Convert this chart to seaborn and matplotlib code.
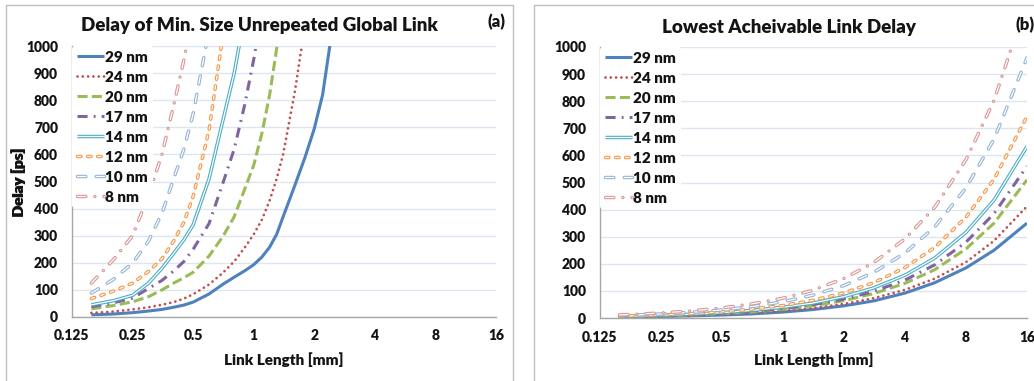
import numpy as np
import pandas as pd
import matplotlib
matplotlib.use("Agg")
import matplotlib.pyplot as plt
import matplotlib.patheffects as pe
from matplotlib.patches import Rectangle
from matplotlib.ticker import NullLocator
import seaborn as sns

# ---------------- data ----------------
series_names = ["29 nm", "24 nm", "20 nm", "17 nm", "14 nm", "12 nm", "10 nm", "8 nm"]
x_ticks = [0.125, 0.25, 0.5, 1, 2, 4, 8, 16]
x_tick_labels = ["0.125", "0.25", "0.5", "1", "2", "4", "8", "16"]
y_ticks = [0, 100, 200, 300, 400, 500, 600, 700, 800, 900, 1000]

nan = np.nan
# (a) Delay of minimum-size unrepeated global link
length_a = [0.156, 0.2, 0.25, 0.3, 0.35, 0.4, 0.45, 0.5, 0.6, 0.7, 0.8, 0.9, 1.0, 1.1, 1.2, 1.3, 1.4, 1.6, 1.8, 2.0, 2.2, 2.5]
delay_a_29 = [8, 11, 16, 22, 28, 36, 44, 55, 85, 120, 147, 170, 193, 222, 258, 305, 370, 485, 590, 695, 820, 1100]
delay_a_24 = [15, 20, 28, 36, 45, 55, 68, 84, 120, 162, 205, 255, 305, 360, 430, 510, 600, 830, 1080, nan, nan, nan]
delay_a_20 = [30, 42, 56, 75, 100, 125, 145, 165, 225, 295, 370, 470, 560, 680, 820, 990, 1150, nan, nan, nan, nan, nan]
delay_a_17 = [38, 52, 70, 105, 135, 170, 205, 250, 345, 490, 620, 780, 950, 1130, nan, nan, nan, nan, nan, nan, nan, nan]
delay_a_14 = [45, 60, 80, 125, 180, 235, 285, 340, 510, 720, 900, 1110, nan, nan, nan, nan, nan, nan, nan, nan, nan, nan]
delay_a_12 = [68, 95, 125, 168, 215, 280, 350, 445, 690, 1030, nan, nan, nan, nan, nan, nan, nan, nan, nan, nan, nan, nan]
delay_a_10 = [88, 138, 199, 280, 383, 510, 620, 750, 1060, nan, nan, nan, nan, nan, nan, nan, nan, nan, nan, nan, nan, nan]
delay_a_8 = [125, 210, 300, 450, 600, 780, 950, 1120, nan, nan, nan, nan, nan, nan, nan, nan, nan, nan, nan, nan, nan, nan]

# (b) Lowest achievable link delay
length_b = [0.156, 0.2, 0.25, 0.35, 0.5, 0.7, 1, 1.4, 2, 2.8, 4, 5.6, 8, 11, 16]
delay_b_29 = [3.5, 4.5, 5.5, 8, 11, 15, 22, 31, 45, 63, 92, 130, 185, 250, 350]
delay_b_24 = [4, 5, 6.5, 9, 13, 18, 26, 36, 52, 73, 104, 145, 206, 285, 412]
delay_b_20 = [5, 6.5, 8, 11, 16, 22, 32, 45, 64, 90, 128, 178, 255, 350, 510]
delay_b_17 = [5.5, 7, 9, 12, 17.5, 24, 35, 49, 70, 98, 140, 196, 280, 385, 560]
delay_b_14 = [6, 8, 10, 14, 20, 28, 40, 55, 79, 111, 158, 221, 316, 435, 633]
delay_b_12 = [7, 9, 12, 16, 23, 33, 46, 65, 93, 130, 186, 260, 372, 512, 744]
delay_b_10 = [9, 12, 15, 21, 30, 42, 60, 84, 120, 168, 240, 336, 480, 660, 960]
delay_b_8 = [11.5, 15, 18.5, 26, 37, 52, 73, 102, 146, 204, 292, 408, 584, 803, 1170]

panel_a = [delay_a_29, delay_a_24, delay_a_20, delay_a_17, delay_a_14, delay_a_12, delay_a_10, delay_a_8]
panel_b = [delay_b_29, delay_b_24, delay_b_20, delay_b_17, delay_b_14, delay_b_12, delay_b_10, delay_b_8]

# ---------------- styles ----------------
double_fx = [pe.Normal(), pe.Stroke(linewidth=0.9, foreground="white")]
styles = [
    dict(color="#4F81BD", lw=2.2, ls="-", dash_capstyle="butt"),
    dict(color="#C0504D", lw=2.0, ls=(0, (0.01, 1.9)), dash_capstyle="round"),
    dict(color="#9BBB59", lw=2.2, ls=(0, (3.3, 1.4)), dash_capstyle="butt"),
    dict(color="#8064A2", lw=2.2, ls=(0, (3.3, 2.0, 0.6, 2.0)), dash_capstyle="butt"),
    dict(color="#4BACC6", lw=2.5, ls="-", dash_capstyle="round", fx=True),
    dict(color="#F79646", lw=2.5, ls=(0, (1.0, 1.9)), dash_capstyle="round", fx=True),
    dict(color="#95B3D7", lw=2.5, ls=(0, (2.4, 3.0)), dash_capstyle="round", fx=True),
    dict(color="#D99694", lw=2.5, ls=(0, (2.4, 2.6, 0.01, 2.6)), dash_capstyle="round", fx=True),
]

sns.set_theme(style="white")
plt.rcParams["font.family"] = ["Lato", "DejaVu Sans"]
WGT = "heavy"
TXT = "#141414"

W, H = 1034, 381
fig = plt.figure(figsize=(W / 100, H / 100), dpi=100)
fig.patch.set_facecolor("white")


def fx(px):
    return px / W


def fy(py):
    return (H - py) / H


# chart area frames (Excel style)
for x0, x1 in [(6, 513), (534, 1060)]:
    fig.patches.append(Rectangle((fx(x0), fy(400)), fx(x1 - x0), (400 - 5) / H,
                                 transform=fig.transFigure, fill=False,
                                 edgecolor="#BFBFBF", lw=1.0, zorder=0))

panels = [
    dict(rect=(72, 46, 496, 317), lengths=length_a, data=panel_a,
         title="Delay of Min. Size Unrepeated Global Link", tx=259.5, ty=25,
         tag="(a)", tagx=496, tagy=22, tagha="center"),
    dict(rect=(600, 47, 1027, 318), lengths=length_b, data=panel_b,
         title="Lowest Acheivable Link Delay", tx=789, ty=27,
         tag="(b)", tagx=1016, tagy=25, tagha="left"),
]

for p in panels:
    l, t, r, b = p["rect"]
    ax = fig.add_axes([fx(l), fy(b), fx(r - l), (b - t) / H])
    ax.set_facecolor("none")
    for name, vals, st in zip(series_names, p["data"], styles):
        df = pd.DataFrame({"length": p["lengths"], "delay": vals}).dropna()
        kw = dict(color=st["color"], lw=st["lw"], linestyle=st["ls"],
                  dash_capstyle=st["dash_capstyle"], solid_capstyle="butt")
        if st.get("fx"):
            kw["path_effects"] = double_fx
        sns.lineplot(data=df, x="length", y="delay", ax=ax, label=name,
                     errorbar=None, sort=False, estimator=None, **kw)

    ax.set_xscale("log", base=2)
    ax.set_xlim(0.125, 16)
    ax.set_ylim(0, 1000)
    ax.set_xticks(x_ticks)
    ax.set_xticklabels(x_tick_labels)
    ax.xaxis.set_minor_locator(NullLocator())
    ax.set_yticks(y_ticks)
    ax.set_yticklabels([str(v) for v in y_ticks])
    ax.tick_params(axis="both", length=0, labelsize=10, labelcolor=TXT)
    ax.tick_params(axis="x", pad=9)
    ax.tick_params(axis="y", pad=10)
    for lab in ax.get_xticklabels() + ax.get_yticklabels():
        lab.set_fontweight(WGT)
    ax.yaxis.grid(True, color="#DCE6F2", lw=1.0)
    ax.xaxis.grid(False)
    ax.set_axisbelow(True)
    for s in ["top", "right"]:
        ax.spines[s].set_visible(False)
    for s in ["left", "bottom"]:
        ax.spines[s].set_color("#A6A6A6")
        ax.spines[s].set_linewidth(1.0)

    ax.set_xlabel("Link Length [mm]", fontsize=11, fontweight=WGT, color=TXT)
    ax.set_ylabel("Delay [ps]", fontsize=11, fontweight=WGT, color=TXT)
    ax.xaxis.set_label_coords(0.5, (b - 352) / (b - t))
    ax.yaxis.set_label_coords((26 - l) / (r - l), 0.5)

    handles, labels = ax.get_legend_handles_labels()
    leg = ax.legend(handles, labels, loc="upper left", bbox_to_anchor=(0, 1),
                    borderaxespad=0, borderpad=0.3, frameon=True,
                    facecolor="white", edgecolor="none", framealpha=1,
                    handlelength=1.77, handletextpad=0.1, labelspacing=0.46,
                    prop=dict(size=11, weight=WGT))
    for txt in leg.get_texts():
        txt.set_color(TXT)

    fig.text(fx(p["tx"]), fy(p["ty"]), p["title"], ha="center", va="center",
             fontsize=13.5, fontweight=WGT, color=TXT)
    fig.text(fx(p["tagx"]), fy(p["tagy"]), p["tag"], ha=p["tagha"], va="center",
             fontsize=12, fontweight=WGT, color=TXT)

fig.savefig("out.png", dpi=100)
